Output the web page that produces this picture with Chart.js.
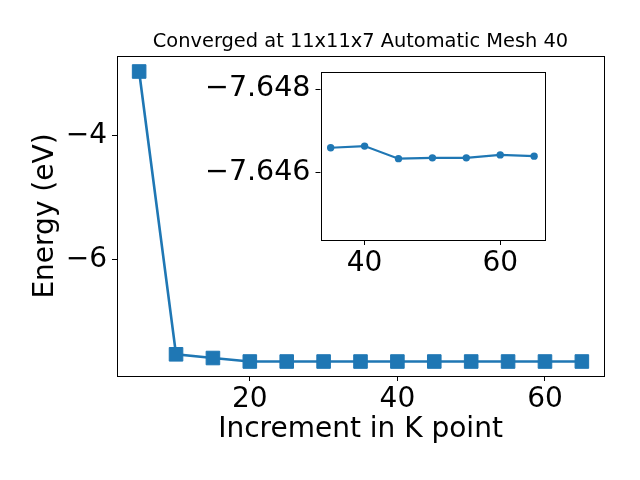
<!DOCTYPE html>
<html>
<head>
<meta charset="utf-8">
<script src="https://cdn.jsdelivr.net/npm/chart.js@4/dist/chart.umd.min.js"></script>
<style>
  body { margin: 0; background: #fff; }
  #wrap { position: relative; width: 640px; height: 480px; }
  #main { position: absolute; left: 0; top: 0; }
  #inset { position: absolute; left: 180px; top: 60px; }
</style>
</head>
<body>
<div id="wrap">
  <canvas id="main" width="640" height="480"></canvas>
  <canvas id="inset" width="380" height="230"></canvas>
</div>
<script>
// ====== data ======
const kPoints  = [5, 10, 15, 20, 25, 30, 35, 40, 45, 50, 55, 60, 65];
const energies = [-2.97, -7.53, -7.59, -7.6465, -7.6465, -7.6465, -7.6466, -7.64664, -7.64634, -7.64636, -7.64636, -7.64643, -7.6464];
const insetFrom = 35;                 // inset shows k >= 35
const mainXTicks  = [20, 40, 60];
const mainYTicks  = [-6, -4];
const insetXTicks = [40, 60];
const insetYTicks = [-7.648, -7.646];

const BLUE = '#1f77b4';
const FONT = "'DejaVu Sans', sans-serif";
Chart.defaults.font.family = FONT;
Chart.defaults.color = '#000';

const minus = (s) => String(s).replace('-', '\u2212');

// frame around chart area (all four spines) + white face + optional title
const framePlugin = {
    id: 'frame',
    beforeDatasetsDraw(chart) {
        const a = chart.chartArea, ctx = chart.ctx;
        ctx.save();
        ctx.fillStyle = '#fff';
        ctx.fillRect(a.left, a.top, a.right - a.left, a.bottom - a.top);
        ctx.restore();
    },
    afterDraw(chart) {
        const a = chart.chartArea, ctx = chart.ctx;
        ctx.save();
        ctx.strokeStyle = '#000';
        ctx.lineWidth = 1;
        ctx.strokeRect(Math.round(a.left) + 0.5, Math.round(a.top) + 0.5,
            Math.round(a.right - a.left), Math.round(a.bottom - a.top));
        const t = chart.options.plugins.frame && chart.options.plugins.frame.title;
        if (t) {
            ctx.fillStyle = '#000';
            ctx.font = "19.4px " + FONT;
            ctx.textAlign = 'center';
            ctx.textBaseline = 'alphabetic';
            ctx.fillText(t, (a.left + a.right) / 2, 47);
        }
        ctx.restore();
    },
};

// linear axis with fixed ticks and matplotlib-like outward tick marks
function axis(ticksList, min, max, size, opts) {
    return Object.assign({
        type: 'linear',
        min, max,
        afterBuildTicks: (s) => { s.ticks = ticksList.map((v) => ({ value: v })); },
        afterFit: (s) => {
            if (s.isHorizontal()) s.height = size; else s.width = size;
            s.paddingTop = s.paddingBottom = s.paddingLeft = s.paddingRight = 0;
        },
        grid: { drawOnChartArea: false, drawTicks: true, tickLength: 5, color: '#000', lineWidth: 1 },
        border: { display: false },
    }, opts);
}

// ====== main chart ======
new Chart(document.getElementById('main'), {
    type: 'line',
    data: {
        datasets: [{
            data: kPoints.map((k, i) => ({ x: k, y: energies[i] })),
            borderColor: BLUE,
            backgroundColor: BLUE,
            borderWidth: 2.6,
            pointStyle: 'rect',
            pointRadius: 9.6,
            pointBorderWidth: 1,
            pointBorderColor: BLUE,
            pointBackgroundColor: BLUE,
            tension: 0,
        }],
    },
    options: {
        responsive: false,
        animation: false,
        devicePixelRatio: 1,
        layout: { padding: { top: 56, right: 36, left: 0, bottom: 0 } },
        plugins: { legend: { display: false }, tooltip: { enabled: false },
                   frame: { title: 'Converged at 11x11x7 Automatic Mesh 40' } },
        scales: {
            x: axis(mainXTicks, 2, 68, 104, {
                ticks: { font: { size: 28 }, color: '#000', maxRotation: 0, autoSkip: false, padding: 2 },
                title: { display: true, text: 'Increment in K point', font: { size: 28 }, color: '#000', padding: { top: 0, bottom: 33.6 } },
            }),
            y: axis(mainYTicks, -7.88, -2.72, 117, {
                ticks: { font: { size: 28 }, color: '#000', padding: 5, callback: (v) => minus(v) },
                title: { display: true, text: 'Energy (eV)', font: { size: 28 }, color: '#000', padding: { top: 28.5, bottom: 0 } },
            }),
        },
    },
    plugins: [framePlugin],
});

// ====== inset ======
const insetIdx = kPoints.map((k, i) => i).filter((i) => kPoints[i] >= insetFrom);
new Chart(document.getElementById('inset'), {
    type: 'line',
    data: {
        datasets: [{
            data: insetIdx.map((i) => ({ x: kPoints[i], y: energies[i] })),
            borderColor: BLUE,
            backgroundColor: BLUE,
            borderWidth: 2.2,
            pointStyle: 'circle',
            pointRadius: 3.7,
            pointBorderWidth: 0,
            pointBackgroundColor: BLUE,
            tension: 0,
        }],
    },
    options: {
        responsive: false,
        animation: false,
        devicePixelRatio: 1,
        layout: { padding: { top: 12.3, right: 15.7, left: 0, bottom: 0 } },
        plugins: { legend: { display: false }, tooltip: { enabled: false } },
        scales: {
            x: axis(insetXTicks, 33.5, 66.5, 50, {
                ticks: { font: { size: 28 }, color: '#000', maxRotation: 0, autoSkip: false, padding: 2 },
            }),
            y: axis(insetYTicks, -7.6484, -7.6444, 140.5, {
                reverse: true,
                ticks: { font: { size: 28.5 }, color: '#000', padding: 5, callback: (v) => minus(v.toFixed(3)) },
            }),
        },
    },
    plugins: [framePlugin],
});
</script>
</body>
</html>
